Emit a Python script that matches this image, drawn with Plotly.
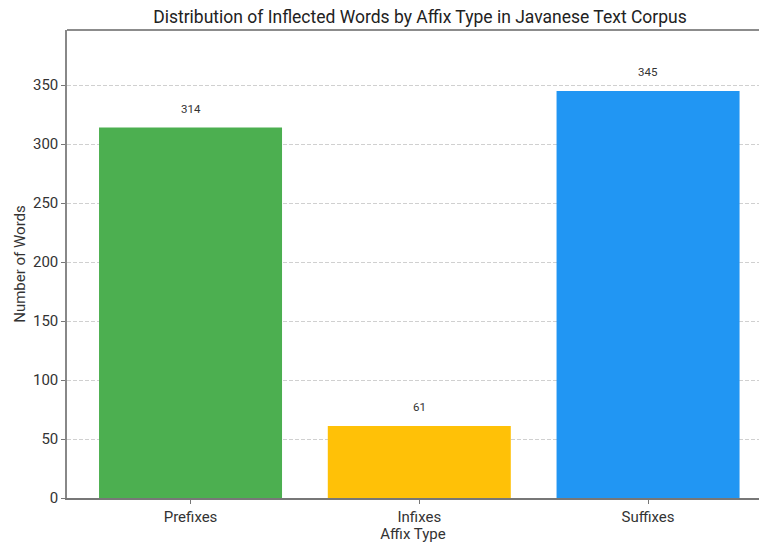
import plotly.graph_objects as go

categories = ["Prefixes", "Infixes", "Suffixes"]
counts = [314, 61, 345]
colors = ["#4CAF50", "#FFC107", "#2196F3"]
y_ticks = [0, 50, 100, 150, 200, 250, 300, 350]

fig = go.Figure()
fig.add_trace(go.Bar(
    x=list(range(len(categories))),
    y=counts,
    width=0.8,
    marker=dict(color=colors, line=dict(width=0)),
    showlegend=False,
))

for i, v in enumerate(counts):
    fig.add_annotation(x=i, y=v, text=str(v), showarrow=False,
                       yshift=19, font=dict(size=11.5, color="#333333"))

# top spine
fig.add_shape(type="line", xref="paper", yref="paper", x0=0, x1=1, y0=1, y1=1,
              line=dict(color="#666666", width=1.5))

font_family = "Roboto, Open Sans, sans-serif"
fig.update_layout(
    width=759, height=543,
    margin=dict(l=67, r=0, t=30, b=45),
    paper_bgcolor="white", plot_bgcolor="white",
    font=dict(family=font_family, color="#333333"),
    title=dict(text="Distribution of Inflected Words by Affix Type in Javanese Text Corpus",
               x=420 / 759, xanchor="center", xref="container",
               y=1 - 17 / 543, yanchor="middle", yref="container",
               font=dict(size=17.5, color="#222222")),
    xaxis=dict(
        range=[-0.54, 2.485],
        tickmode="array", tickvals=list(range(len(categories))), ticktext=categories,
        ticks="outside", ticklen=4, tickcolor="#777777",
        tickfont=dict(size=15, color="#333333"),
        showline=True, linecolor="#777777", linewidth=1.5, mirror=False,
        showgrid=False, zeroline=False,
        title=dict(text="Affix Type", font=dict(size=15, color="#333333"), standoff=2),
    ),
    yaxis=dict(
        range=[0, 345 * 1.15],
        tickmode="array", tickvals=y_ticks,
        ticks="outside", ticklen=4, tickcolor="#777777",
        tickfont=dict(size=15, color="#333333"),
        showline=True, linecolor="#888888", linewidth=1.5, mirror=False,
        showgrid=True, gridcolor="#d0d0d0", griddash="4px,2px", gridwidth=1,
        zeroline=False,
        title=dict(text="Number of Words", font=dict(size=15, color="#333333"), standoff=4),
    ),
)

fig.write_html("out.html")
